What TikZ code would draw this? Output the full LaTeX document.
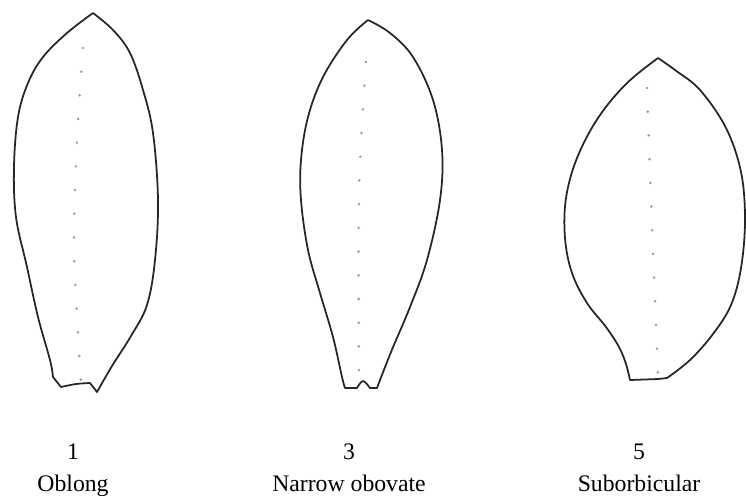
\documentclass[tikz,border=0pt]{standalone}
\usepackage{fontspec}
\setmainfont{Liberation Serif}
\usetikzlibrary{positioning}

\begin{document}
\begin{tikzpicture}[
				x=0.02cm, y=-0.02cm,
				leaf/.style={draw=black!85, line width=1pt, line join=round},
				midrib/.style={draw=black!40, line width=1.6pt, line cap=round, dash pattern=on 0pt off 13.5pt},
				num/.style={font=\fontsize{13.5}{16}\selectfont, inner sep=1pt},
				shape name/.style={font=\fontsize{13.5}{16}\selectfont, inner sep=1pt}
			]
			\useasboundingbox (0,0) rectangle (746,495);

			% oblong
			\draw[leaf] plot[smooth, tension=0.6] coordinates {(93,13) (67,33) (43,57) (28,83) (18,117) (14,167) (16,217) (27,267) (38,317) (50,360) (53,377)}
				-- (61,387) -- plot[smooth, tension=0.6] coordinates {(61,387) (76,384) (90,383)} -- (97,392)
				-- plot[smooth, tension=0.6] coordinates {(97,392) (112,366) (131,336) (147,305) (155,260) (158,200) (153,133) (143,90) (130,53) (113,30) (93,13)};
			\draw[midrib] plot[smooth] coordinates {(83,48) (77,140) (74,250) (81,382)};

			% narrow obovate
			\draw[leaf] plot[smooth, tension=0.6] coordinates {(368,20) (347,40) (323,77) (308,117) (301,160) (301,200) (308,250) (320,293) (333,337) (342,377) (345,388)}
				-- (357,388) -- plot[smooth, tension=0.6] coordinates {(357,388) (363,381) (370,388)} -- (377,388)
				-- plot[smooth, tension=0.6] coordinates {(377,388) (391,352) (410,307) (427,260) (440,200) (442,150) (433,100) (413,57) (390,33) (368,20)};
			\draw[midrib] plot[smooth] coordinates {(366,62) (359,190) (359,382)};

			% suborbicular
			\draw[leaf] plot[smooth, tension=0.6] coordinates {(658,58) (626,84) (598,118) (577,158) (566,198) (565,238) (572,273) (587,303) (606,327) (619,347) (626,364) (630,380)}
				-- (658,379) -- (667,378)
				-- plot[smooth, tension=0.6] coordinates {(667,378) (690,360) (713,334) (731,305) (741,268) (745,220) (741,172) (726,128) (700,90) (675,70) (658,58)};
			\draw[midrib] plot[smooth] coordinates {(647,88) (651,200) (658,375)};

			% labels
			\node[num] (n1) at (73,452) {1};
			\node[shape name, below=6pt of n1] (oblong) {Oblong};
			\node[num] (n3) at (349,452) {3};
			\node[shape name, below=6pt of n3] (obovate) {Narrow obovate};
			\node[num] (n5) at (639,452) {5};
			\node[shape name, below=6pt of n5] (suborb) {Suborbicular};
		\end{tikzpicture}
\end{document}
